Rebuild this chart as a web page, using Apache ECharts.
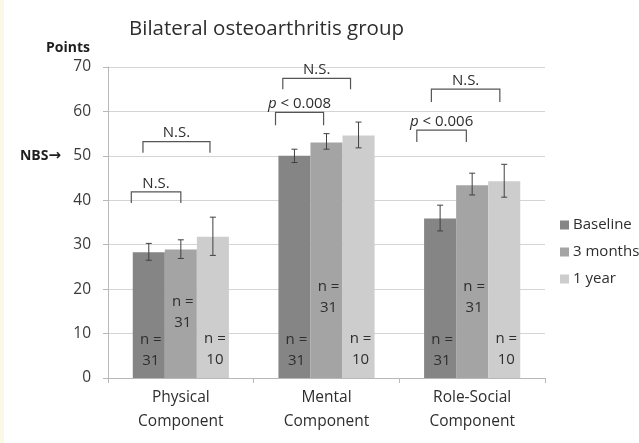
<!DOCTYPE html>
<html><head><meta charset="utf-8">
<script src="https://cdn.jsdelivr.net/npm/echarts@6/dist/echarts.min.js"></script>
<style>html,body{margin:0;padding:0;background:#fff}#c{width:639px;height:443px}</style>
</head><body><div id="c"></div>
<script>
const titleText = 'Bilateral osteoarthritis group';
const categories = ['Physical\nComponent', 'Mental\nComponent', 'Role-Social\nComponent'];
const seriesNames = ['Baseline', '3 months', '1 year'];
const baselineVals = [28.3, 50.0, 35.9];
const months3Vals = [28.9, 53.0, 43.4];
const year1Vals = [31.8, 54.6, 44.3];
const baselineErr = [[26.5, 30.3], [48.5, 51.5], [33.1, 38.9]];
const months3Err = [[26.9, 31.1], [51.5, 55.0], [41.2, 46.1]];
const year1Err = [[27.6, 36.2], [51.8, 57.6], [40.7, 48.1]];
const baselineN = [31, 31, 31];
const months3N = [31, 31, 31];
const year1N = [10, 10, 10];
const yMin = 0, yMax = 70, yStep = 10;
const nbsValue = 50;
const comparisonTexts = ['N.S.', 'N.S.', 'N.S.', 'p < 0.008', 'N.S.', 'p < 0.006'];

// annotation layout (positions in category-band fractions and value units)
const bracketLayout = [
  {cat: 0, from: -0.34, to: 0.0, top: 41.9, leg: 39.4},
  {cat: 0, from: -0.26, to: 0.20, top: 53.2, leg: 50.7},
  {cat: 1, from: -0.30, to: 0.165, top: 67.45, leg: 65.0},
  {cat: 1, from: -0.35, to: -0.02, top: 59.8, leg: 56.9},
  {cat: 2, from: -0.28, to: 0.19, top: 65.0, leg: 62.1},
  {cat: 2, from: -0.38, to: -0.04, top: 55.8, leg: 53.1}
];
const nLabelY = [[6.3, 6.3, 6.3], [14.7, 18.2, 18.2], [6.5, 6.5, 6.5]];
const colors = ['#858585', '#a4a4a4', '#cdcdcd'];
const barFrac = 0.22;
const FONT = '"Open Sans", "Noto Sans", sans-serif';
const TXT = '#2e2e2e';

const vals = [baselineVals, months3Vals, year1Vals];
const errs = [baselineErr, months3Err, year1Err];
const ns = [baselineN, months3N, year1N];

const series = [];
vals.forEach((v, k) => {
  series.push({
    name: seriesNames[k], type: 'bar', data: v, barWidth: (barFrac * 100) + '%', barGap: '0%',
    itemStyle: {color: colors[k]}, z: 2
  });
});
errs.forEach((e, k) => {
  series.push({
    type: 'custom', z: 5, silent: true,
    data: e.map((r, i) => [i, r[0], r[1]]),
    encode: {x: 0, y: [1, 2]},
    renderItem: function (params, api) {
      const bw = api.size([1, 0])[0];
      const lo = api.coord([api.value(0), api.value(1)]);
      const hi = api.coord([api.value(0), api.value(2)]);
      const x = lo[0] + (k - 1) * barFrac * bw;
      const cap = 3;
      const st = {stroke: '#404040', lineWidth: 1};
      return {type: 'group', children: [
        {type: 'line', shape: {x1: x, y1: lo[1], x2: x, y2: hi[1]}, style: st},
        {type: 'line', shape: {x1: x - cap, y1: lo[1], x2: x + cap, y2: lo[1]}, style: st},
        {type: 'line', shape: {x1: x - cap, y1: hi[1], x2: x + cap, y2: hi[1]}, style: st}
      ]};
    }
  });
});
ns.forEach((n, k) => {
  series.push({
    type: 'custom', z: 6, silent: true,
    data: n.map((c, i) => [i, nLabelY[k][i], c]),
    encode: {x: 0, y: 1},
    renderItem: function (params, api) {
      const bw = api.size([1, 0])[0];
      const p = api.coord([api.value(0), api.value(1)]);
      const x = p[0] + (k - 1) * barFrac * bw + 2;
      return {type: 'text', style: {
        x: x, y: p[1], text: 'n =\n' + api.value(2), textAlign: 'center', textVerticalAlign: 'middle',
        fill: TXT, font: '15px ' + FONT, lineHeight: 21
      }};
    }
  });
});
series.push({
  type: 'custom', z: 7, silent: true,
  data: bracketLayout.map((b, i) => [b.cat, b.top, b.leg, b.from, b.to, i]),
  encode: {x: 0, y: [1, 2]},
  renderItem: function (params, api) {
    const bw = api.size([1, 0])[0];
    const t = api.coord([api.value(0), api.value(1)]);
    const l = api.coord([api.value(0), api.value(2)]);
    const x1 = t[0] + api.value(3) * bw, x2 = t[0] + api.value(4) * bw;
    const txt = comparisonTexts[api.value(5)];
    const st = {stroke: '#555', lineWidth: 1.2, fill: null};
    const isP = txt.charAt(0) === 'p';
    return {type: 'group', children: [
      {type: 'polyline', shape: {points: [[x1, l[1]], [x1, t[1]], [x2, t[1]], [x2, l[1]]]}, style: st},
      {type: 'text', style: {
        x: (x1 + x2) / 2, y: t[1] - 1,
        text: isP ? '{i|p}' + txt.slice(1) : txt,
        textAlign: 'center', textVerticalAlign: 'bottom', fill: TXT, font: '15px ' + FONT,
        rich: {i: {fontStyle: 'italic', fontSize: 15, fontFamily: FONT, fill: TXT}}
      }}
    ]};
  }
});

const chart = echarts.init(document.getElementById('c'), null, {renderer: 'canvas'});
chart.setOption({
  animation: false,
  backgroundColor: '#ffffff',
  textStyle: {fontFamily: FONT},
  title: {text: titleText, left: 124, top: 14, textStyle: {fontSize: 20.5, fontWeight: 'normal', color: TXT, fontFamily: FONT}},
  legend: {
    data: seriesNames, orient: 'vertical', left: 555, top: 212, icon: 'rect',
    itemWidth: 9, itemHeight: 9, itemGap: 11, textStyle: {fontSize: 15, color: TXT, fontFamily: FONT, lineHeight: 16, padding: [0, 0, 0, -1]}
  },
  grid: {left: 108, right: 94, top: 67, bottom: 65},
  xAxis: {
    type: 'category', data: categories,
    axisLine: {lineStyle: {color: '#b8b8b8'}},
    axisTick: {show: true, length: 5, lineStyle: {color: '#b8b8b8'}},
    axisLabel: {fontSize: 15.5, color: TXT, lineHeight: 24, margin: 8, fontFamily: FONT}
  },
  yAxis: {
    type: 'value', min: yMin, max: yMax, interval: yStep,
    name: 'Points', nameLocation: 'end', nameGap: 12,
    nameTextStyle: {fontWeight: 'bold', fontSize: 14, color: '#1e1e1e', align: 'right', padding: [0, 18, 0, 0], fontFamily: FONT},
    axisLine: {show: true, lineStyle: {color: '#b8b8b8'}},
    axisTick: {show: true, length: 5, lineStyle: {color: '#b8b8b8'}},
    axisLabel: {fontSize: 15.5, color: '#3a3a3a', margin: 17, fontFamily: FONT},
    splitLine: {lineStyle: {color: '#d4d4d4'}}
  },
  series: series
});
const nbsPx = chart.convertToPixel({yAxisIndex: 0}, nbsValue);
chart.setOption({
  graphic: [
    {type: 'rect', left: 0, top: 0, shape: {width: 4, height: 443}, style: {fill: '#fbf8e6'}, silent: true},
    {type: 'text', x: 61, y: nbsPx, style: {
      text: 'NBS{a|\u2192}', textAlign: 'right', textVerticalAlign: 'middle', font: 'bold 14px ' + FONT, fill: '#1e1e1e',
      rich: {a: {fontFamily: '"DejaVu Sans", sans-serif', fontSize: 15, fontWeight: 'bold', fill: '#1e1e1e'}}
    }}
  ]
});
</script></body></html>
